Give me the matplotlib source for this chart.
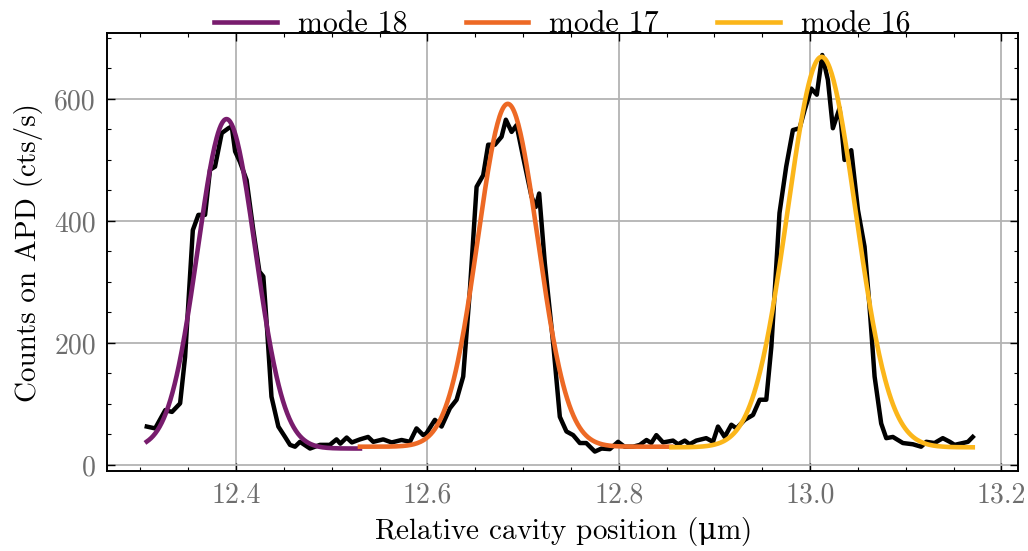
import numpy as np
import matplotlib
matplotlib.use("Agg")
import matplotlib.pyplot as plt
from matplotlib.ticker import MultipleLocator

pos_um = [12.3067, 12.3154, 12.326, 12.333, 12.3415, 12.3467, 12.3548, 12.3606, 12.3676, 12.3728,
          12.378, 12.385, 12.392, 12.3955, 12.399, 12.404, 12.411, 12.418, 12.4244, 12.4285,
          12.432, 12.437, 12.4442, 12.4512, 12.4564, 12.4616, 12.4668, 12.4773, 12.4877, 12.498,
          12.505, 12.509, 12.5156, 12.521, 12.5295, 12.538, 12.5434, 12.5538, 12.5626, 12.573,
          12.5817, 12.5886, 12.5956, 12.599, 12.6078, 12.6148, 12.6235, 12.6305, 12.6374, 12.6444,
          12.6514, 12.6583, 12.6635, 12.6705, 12.6775, 12.682, 12.688, 12.6932, 12.700, 12.7088,
          12.7133, 12.7168, 12.7227, 12.7314, 12.7384, 12.7453, 12.7523, 12.7593, 12.766, 12.775,
          12.782, 12.7906, 12.7993, 12.806, 12.815, 12.822, 12.829, 12.834, 12.8393, 12.8463,
          12.8567, 12.862, 12.869, 12.874, 12.881, 12.8914, 12.8985, 12.9037, 12.9107, 12.9177,
          12.923, 12.9316, 12.9403, 12.9473, 12.9542, 12.9595, 12.968, 12.975, 12.982, 12.989,
          12.9943, 13.0012, 13.007, 13.0127, 13.0186, 13.0238, 13.0308, 13.036, 13.043, 13.05,
          13.0569, 13.0621, 13.0674, 13.0743, 13.0796, 13.0865, 13.097, 13.1074, 13.116, 13.1214,
          13.13, 13.1387, 13.146, 13.151, 13.1596, 13.165, 13.170]
counts = [63, 60, 90, 87, 101, 177, 385, 410, 410, 484,
          489, 544, 552, 555, 514, 497, 467, 385, 317, 309,
          232, 112, 63, 46, 33, 30, 38, 27, 33, 33,
          42, 35, 45, 37, 42, 46, 38, 42, 37, 41,
          38, 60, 49, 52, 74, 63, 93, 107, 145, 287,
          456, 475, 525, 525, 538, 566, 546, 557, 505, 440,
          423, 445, 331, 200, 79, 55, 49, 36, 36, 22,
          27, 26, 38, 30, 30, 33, 41, 36, 49, 37,
          40, 34, 40, 34, 40, 44, 38, 63, 46, 66,
          60, 74, 82, 107, 107, 194, 413, 489, 549, 552,
          582, 617, 607, 672, 631, 552, 585, 500, 516, 418,
          358, 260, 145, 68, 44, 46, 36, 34, 30, 38,
          36, 44, 38, 33, 36, 38, 46]

# ---- Gaussian fit parameters per mode ----
modes = ["mode 18", "mode 17", "mode 16"]
fit_center = [12.390, 12.684, 13.012]
fit_amp = [540, 562, 640]
fit_sigma = [0.0300, 0.0313, 0.0355]
fit_offset = [27, 30, 29]
fit_start = [12.3067, 12.5295, 12.855]
fit_stop = [12.5295, 12.855, 13.170]
fit_colors = ["#781c6d", "#ed6925", "#fbb61a"]

plt.rcParams['font.family'] = ['cmr10', 'DejaVu Serif']
plt.rcParams['mathtext.fontset'] = 'custom'
plt.rcParams['mathtext.rm'] = 'DejaVu Serif'
plt.rcParams['mathtext.it'] = 'DejaVu Serif'
plt.rcParams['axes.formatter.use_mathtext'] = False

fig = plt.figure(figsize=(10.28, 5.51), dpi=100)
ax = fig.add_axes([0.104, 0.145, 0.886, 0.795])

ax.plot(pos_um, counts, color="black", lw=3.2, zorder=3)
for name, c, a, s, o, x0, x1, col in zip(modes, fit_center, fit_amp, fit_sigma,
                                          fit_offset, fit_start, fit_stop, fit_colors):
    xx = np.linspace(x0, x1, 300)
    yy = o + a * np.exp(-(xx - c) ** 2 / (2 * s ** 2))
    ax.plot(xx, yy, color=col, lw=3.3, label=name, zorder=4)

ax.set_xlim(12.265, 13.217)
ax.set_ylim(-10, 708)
ax.xaxis.set_major_locator(MultipleLocator(0.2))
ax.xaxis.set_minor_locator(MultipleLocator(0.05))
ax.yaxis.set_major_locator(MultipleLocator(200))
ax.yaxis.set_minor_locator(MultipleLocator(50))
ax.grid(True, which='major', color='#b3b3b3', lw=1.3, zorder=0)
ax.tick_params(which='both', direction='in', top=True, right=True, colors='black',
               labelcolor='#6e6e6e', labelsize=20)
ax.tick_params(which='major', length=6, width=1.0, pad=8)
ax.tick_params(which='minor', length=3, width=0.8)
for sp in ax.spines.values():
    sp.set_linewidth(1.4)

ax.set_xlabel(r"Relative cavity position ($\mathrm{\mu}$m)", fontsize=21, labelpad=5)
ax.set_ylabel("Counts on APD (cts/s)", fontsize=21, labelpad=8)

ax.legend(loc='lower center', bbox_to_anchor=(0.5, 0.96), ncol=3, frameon=False,
          fontsize=21.5, handlelength=2.1, columnspacing=1.95, borderaxespad=0.0,
          handletextpad=0.7)

fig.savefig("out.png", dpi=100)
